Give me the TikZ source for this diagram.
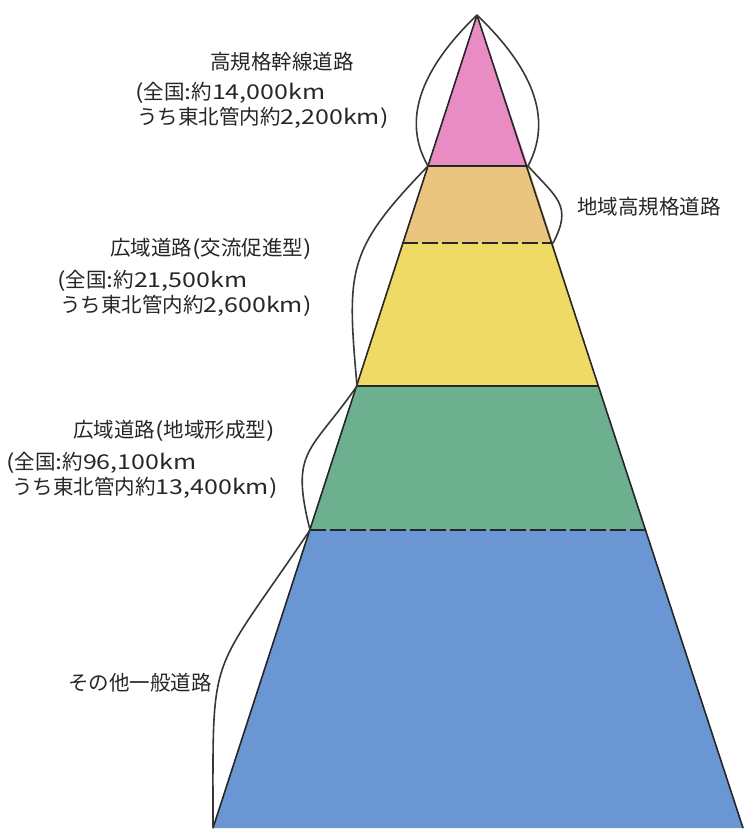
\documentclass[tikz,border=0pt]{standalone}
\usepackage{fontspec}
\usepackage{tikz}
\newfontfamily\jpfont{Noto Sans CJK JP}
\newfontfamily\latinwide{Noto Sans CJK JP}[FakeStretch=1.22]
\newcommand\lw[1]{{\latinwide #1}}
\definecolor{pinklayer}{RGB}{234,140,196}
\definecolor{orangelayer}{RGB}{233,197,127}
\definecolor{yellowlayer}{RGB}{238,218,100}
\definecolor{greenlayer}{RGB}{108,176,143}
\definecolor{bluelayer}{RGB}{106,151,211}

\begin{document}
\begin{tikzpicture}[x=1pt,y=1pt]
\tikzstyle{every node}+=[inner sep=0pt,anchor=base west,text=black!85,font=\jpfont\fontsize{20.5}{25}\selectfont]
\tikzstyle{edge}=[line width=1.6pt,black!85]
\tikzstyle{cut}=[edge,dash pattern=on 16pt off 4pt]
\tikzstyle{bracket}=[line width=1.6pt,black!78]
\useasboundingbox (0,0) rectangle (746,-830);
\coordinate (apex) at (477,-15);
\coordinate (pl) at (428,-166);
\coordinate (pr) at (528,-166);
\coordinate (ol) at (402,-243);
\coordinate (or) at (553,-243);
\coordinate (yl) at (357,-386);
\coordinate (yr) at (598,-386);
\coordinate (gl) at (310,-530);
\coordinate (gr) at (645,-530);
\coordinate (bl) at (213,-828);
\coordinate (br) at (743,-828);
\fill [pinklayer] (apex) -- (pr) -- (pl) -- cycle;
\fill [orangelayer] (pl) -- (pr) -- (or) -- (ol) -- cycle;
\fill [yellowlayer] (ol) -- (or) -- (yr) -- (yl) -- cycle;
\fill [greenlayer] (yl) -- (yr) -- (gr) -- (gl) -- cycle;
\fill [bluelayer] (gl) -- (gr) -- (br) -- (bl) -- cycle;
\draw [edge] (apex) -- (bl);
\draw [edge] (apex) -- (br);
\draw [edge] (pl) -- (pr);
\draw [cut] (ol) -- (or);
\draw [edge] (yl) -- (yr);
\draw [cut] (gl) -- (gr);
\draw [bracket] (apex) to [out=224,in=120] (pl);
\draw [bracket] (apex) to [out=-44,in=62] (pr);
\draw [bracket] (pr) to [out=-48,in=62,looseness=1.35] (or);
\draw [bracket] (pl) to [out=226,in=95,looseness=1.3] (yl);
\draw [bracket] (yl) to [out=235,in=104,looseness=1.4] (gl);
\draw [bracket] (gl) to [out=236,in=90,looseness=1.5] (bl);
\node (hk1) at (210,-69.5) {高規格幹線道路};
\node (hk2) at (135,-99.5) {\lw{(}全国\lw{:}約\lw{14,000km}};
\node (hk3) at (137,-124.5) {うち東北管内約\lw{2,200km)}};
\node (ck) at (577,-214.5) {地域高規格道路};
\node (kk1) at (110,-255.5) {広域道路\lw{(}交流促進型\lw{)}};
\node (kk2) at (57,-287.5) {\lw{(}全国\lw{:}約\lw{21,500km}};
\node (kk3) at (60,-312.5) {うち東北管内約\lw{2,600km)}};
\node (kc1) at (73,-437.5) {広域道路\lw{(}地域形成型\lw{)}};
\node (kc2) at (6,-469.5) {\lw{(}全国\lw{:}約\lw{96,100km}};
\node (kc3) at (12,-494.5) {うち東北管内約\lw{13,400km)}};
\node (ip) at (68,-690.5) {その他一般道路};
\end{tikzpicture}
\end{document}
